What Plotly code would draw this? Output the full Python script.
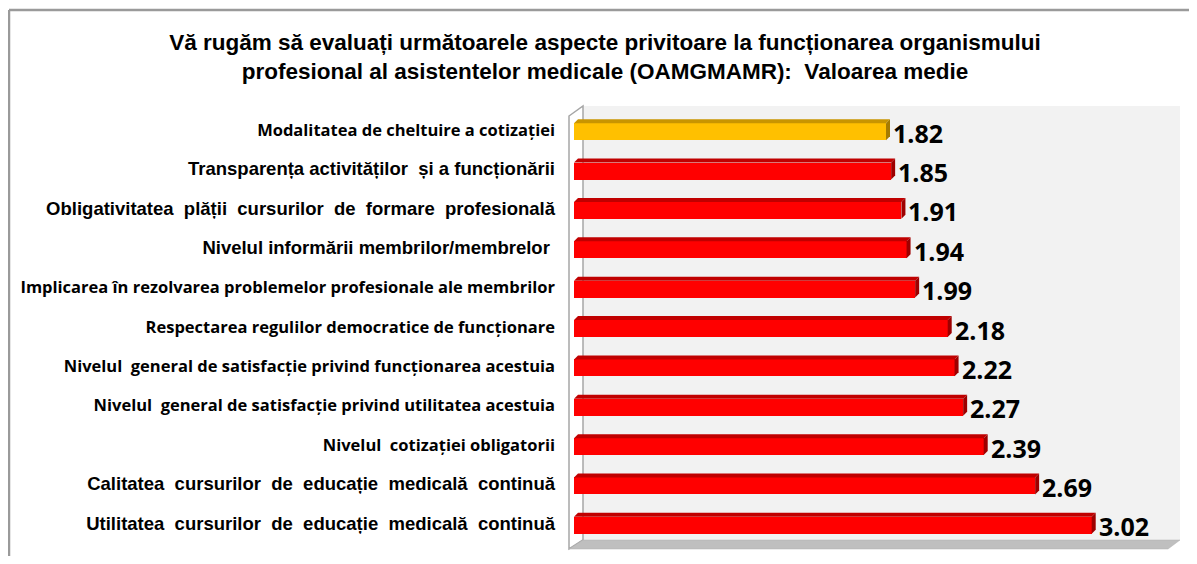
import plotly.graph_objects as go

categories = [
    "Modalitatea de cheltuire a cotizației",
    "Transparența activităților  și a funcționării",
    "Obligativitatea  plății  cursurilor  de  formare  profesională",
    "Nivelul informării membrilor/membrelor ",
    "Implicarea în rezolvarea problemelor profesionale ale membrilor",
    "Respectarea regulilor democratice de funcționare",
    "Nivelul  general de satisfacție privind funcționarea acestuia",
    "Nivelul  general de satisfacție privind utilitatea acestuia",
    "Nivelul  cotizației obligatorii",
    "Calitatea  cursurilor  de  educație  medicală  continuă",
    "Utilitatea  cursurilor  de  educație  medicală  continuă",
]
values = [1.82, 1.85, 1.91, 1.94, 1.99, 2.18, 2.22, 2.27, 2.39, 2.69, 3.02]
# label style: "a" = Arial-like bold, "c" = Calibri-like bold
label_style = ["c", "a", "a", "a", "c", "c", "c", "c", "c", "a", "a"]
highlight = [True] + [False] * 10

title_text = ("Vă rugăm să evaluați următoarele aspecte privitoare la funcționarea organismului<br>"
              "profesional al asistentelor medicale (OAMGMAMR):  Valoarea medie")

OFF = 8  # page body margin
W, H = 1197 - 2 * OFF, 564 - 2 * OFF
L, R, T, B = 566, 15, 104, 11
XMAX = 3.5
n = len(categories)
plot_w = W - L - R
plot_h = H - T - B
px_x = plot_w / XMAX
px_y = plot_h / n

def px2paper(px, py):
    fx, fy = px - OFF, py - OFF
    return (fx - L) / plot_w, (H - B - fy) / plot_h

def ptxt(c, s):
    c = c.replace("  ", "\u00a0\u00a0")
    if s == "a":
        return f"<span style='font-family:Liberation Sans;font-size:18.5px'><b>{c}</b></span>"
    return f"<span style='font-family:Open Sans;font-size:16.5px'><b>{c}</b></span>"

idx = list(range(n))
front = ["#FFC000" if h else "#FF0000" for h in highlight]
topc = ["#C89500" if h else "#C00000" for h in highlight]
sidec = ["#A67C00" if h else "#9E0000" for h in highlight]

fig = go.Figure()
bar_w = 0.43
fig.add_trace(go.Bar(
    x=values, y=idx, orientation="h", width=bar_w,
    marker=dict(color=front, line=dict(width=0)),
    hoverinfo="x+y", showlegend=False,
))

shapes = []
def poly(points, ref, fill, line_color=None, lw=0, layer="below"):
    d = "M " + " L ".join(f"{x},{y}" for x, y in points) + " Z"
    r = "paper" if ref == "paper" else None
    return dict(type="path", path=d, xref=r or "x", yref=r or "y", fillcolor=fill,
                line=dict(color=line_color or fill, width=lw), layer=layer)

# walls and floor (reference pixel positions converted to paper)
back = [px2paper(583, 106), px2paper(1180, 106), px2paper(1180, 540), px2paper(583, 540)]
shapes.append(poly(back, "paper", "#F2F2F2"))
leftw = [px2paper(569, 116), px2paper(583, 106), px2paper(583, 540), px2paper(569, 549)]
shapes.append(poly(leftw, "paper", "#FFFFFF", "#A6A6A6", 1.5))
floor = [px2paper(569, 549), px2paper(583, 540), px2paper(1180, 540), px2paper(1168, 549)]
shapes.append(poly(floor, "paper", "#BFBFBF", "#B0B0B0", 0.5))

# bar 3D faces
ddx = 4 / px_x
ddy = 4 / px_y
hw = bar_w / 2
for i, v in enumerate(values):
    top = [(0, i - hw), (v, i - hw), (v + ddx, i - hw - ddy), (ddx, i - hw - ddy)]
    shapes.append(poly(top, "data", topc[i], layer="above"))
    side = [(v, i - hw), (v + ddx, i - hw - ddy), (v + ddx, i + hw - ddy), (v, i + hw)]
    shapes.append(poly(side, "data", sidec[i], layer="above"))

# outer frame (top and left edges)
p0 = px2paper(9, 10)
shapes.append(dict(type="line", xref="paper", yref="paper",
                   x0=p0[0], y0=p0[1], x1=px2paper(1197, 10)[0], y1=p0[1],
                   line=dict(color="#9A9A9A", width=2.5)))
shapes.append(dict(type="line", xref="paper", yref="paper",
                   x0=p0[0], y0=p0[1], x1=p0[0], y1=px2paper(9, 570)[1],
                   line=dict(color="#9A9A9A", width=2.5)))

annotations = []
for i, v in enumerate(values):
    annotations.append(dict(x=v, y=i, xref="x", yref="y", text=f"<b>{v:.2f}</b>",
                            showarrow=False, xanchor="left", yanchor="middle", xshift=5, yshift=-1,
                            font=dict(family="Open Sans", size=25, color="#000000")))

fig.update_layout(
    width=W, height=H,
    margin=dict(l=L, r=R, t=T, b=B),
    paper_bgcolor="#FFFFFF", plot_bgcolor="rgba(0,0,0,0)",
    title=dict(text=f"<b>{title_text}</b>", xref="container", x=(605 - OFF) / W, xanchor="center",
               yref="container", y=1 - 42 / H, yanchor="top",
               font=dict(family="Liberation Sans", size=22.5, color="#000000")),
    xaxis=dict(range=[0, XMAX], showgrid=False, zeroline=False, showticklabels=False,
               showline=False, fixedrange=True),
    yaxis=dict(range=[n - 0.5, -0.5], tickmode="array", tickvals=idx,
               ticktext=[ptxt(c, s) for c, s in zip(categories, label_style)],
               showgrid=False, zeroline=False, showline=False, ticks="",
               ticklabelstandoff=18, tickfont=dict(color="#000000"), fixedrange=True),
    shapes=shapes,
    annotations=annotations,
    bargap=0,
)

fig.write_html("out.html")
